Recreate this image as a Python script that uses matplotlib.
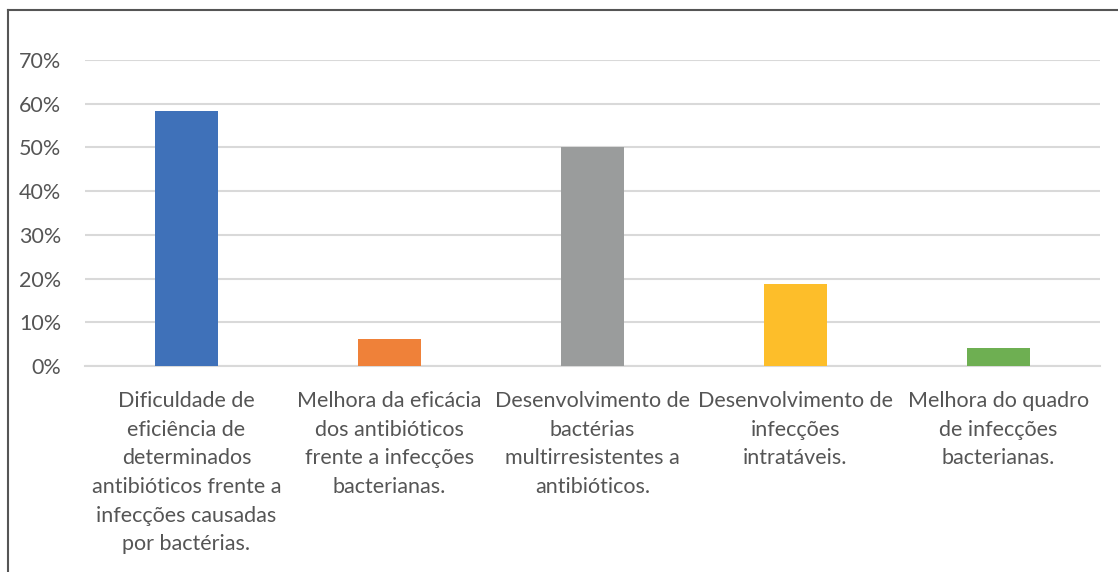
import matplotlib.pyplot as plt
from matplotlib.lines import Line2D
from matplotlib.ticker import PercentFormatter

categorias = [
    "Dificuldade de\neficiência de\ndeterminados\nantibióticos frente a\ninfecções causadas\npor bactérias.",
    "Melhora da eficácia\ndos antibióticos\nfrente a infecções\nbacterianas.",
    "Desenvolvimento de\nbactérias\nmultirresistentes a\nantibióticos.",
    "Desenvolvimento de\ninfecções\nintratáveis.",
    "Melhora do quadro\nde infecções\nbacterianas.",
]
valores = [0.583, 0.0625, 0.50, 0.1875, 0.0417]
cores = ["#3F71B9", "#EF8139", "#9A9C9C", "#FDBE2A", "#6EAF52"]
yticks = [0, 0.1, 0.2, 0.3, 0.4, 0.5, 0.6, 0.7]

plt.rcParams['font.family'] = ['Lato', 'DejaVu Sans']
texto = "#555555"

fig = plt.figure(figsize=(11.18, 5.72), dpi=100)
ax = fig.add_axes([85 / 1118, 1 - 366 / 572, 1015 / 1118, 306 / 572])

x = list(range(len(categorias)))
ax.bar(x, valores, width=0.315, color=cores, zorder=3)

ax.set_xlim(-0.5, len(categorias) - 0.5)
ax.set_ylim(0, 0.7)
ax.set_yticks(yticks)
ax.yaxis.set_major_formatter(PercentFormatter(1.0, decimals=0))
ax.grid(axis='y', color="#D9D9D9", linewidth=1.5, zorder=0)
for s in ['top', 'right', 'left']:
    ax.spines[s].set_visible(False)
ax.spines['bottom'].set_color("#D9D9D9")
ax.spines['bottom'].set_linewidth(1.5)

ax.set_xticks(x)
ax.set_xticklabels(categorias, fontsize=15.5, color=texto, linespacing=1.54, va='top')
ax.tick_params(axis='x', length=0, pad=18)
ax.tick_params(axis='y', length=0, pad=17, labelsize=15.5, labelcolor=texto)

# moldura do gráfico
fig.add_artist(Line2D([8 / 1118, 8 / 1118], [0, 1 - 10 / 572], color="#555555", linewidth=1.5))
fig.add_artist(Line2D([8 / 1118, 1], [1 - 10 / 572, 1 - 10 / 572], color="#555555", linewidth=1.5))

fig.savefig("out.png", dpi=100)
